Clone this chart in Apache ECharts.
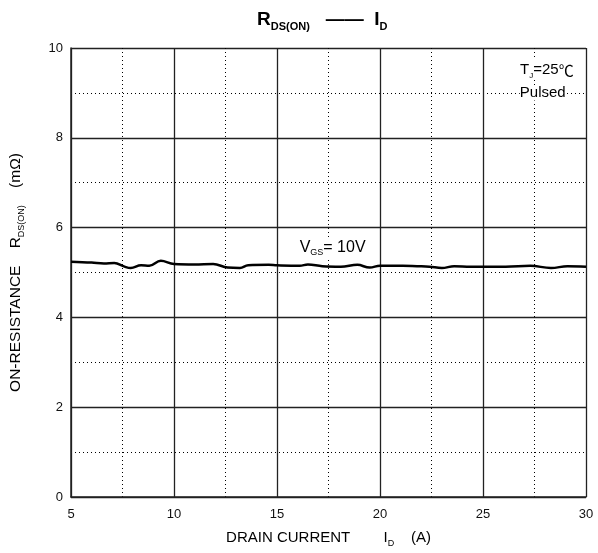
<!DOCTYPE html>
<html>
<head>
<meta charset="utf-8">
<script src="https://cdn.jsdelivr.net/npm/echarts@6/dist/echarts.min.js"></script>
<style>
html,body{margin:0;padding:0;background:#fff;}
#c{width:598px;height:553px;}
</style>
</head>
<body>
<div id="c"></div>
<script>
// Data
const drainCurrent = [5, 6, 6.6, 7.1, 7.6, 7.9, 8.4, 8.8, 9.36, 10, 11, 11.9, 12.6, 13.2, 13.6, 14.6, 15, 16.1, 16.5, 17.2, 18.1, 18.9, 19.5, 20, 21.1, 21.8, 22.4, 23, 23.6, 24.4, 25, 26.1, 27.3, 28.3, 29.1, 30];
const onResistance = [5.24, 5.22, 5.20, 5.21, 5.13, 5.10, 5.16, 5.15, 5.26, 5.19, 5.18, 5.19, 5.11, 5.10, 5.16, 5.17, 5.16, 5.15, 5.18, 5.14, 5.13, 5.17, 5.11, 5.15, 5.15, 5.14, 5.13, 5.10, 5.14, 5.13, 5.13, 5.13, 5.15, 5.10, 5.14, 5.13];
const xTicks = [5, 10, 15, 20, 25, 30];
const yTicks = [0, 2, 4, 6, 8, 10];

const FONT = '"Liberation Sans", Arial, sans-serif';
const chart = echarts.init(document.getElementById('c'), null, {renderer: 'canvas'});

const option = {
  backgroundColor: '#fff',
  animation: false,
  title: {
    left: 252, top: 3,
    text: '{m|R}{s|DS(ON)}{m|   ——  I}{s|D}',
    textStyle: {
      rich: {
        m: {fontFamily: FONT, fontWeight: 'bold', fontSize: 19, color: '#000', lineHeight: 24, verticalAlign: 'middle'},
        s: {fontFamily: FONT, fontWeight: 'bold', fontSize: 11, color: '#000', lineHeight: 9, verticalAlign: 'bottom'}
      }
    }
  },
  grid: {left: 70, right: 12, top: 48, bottom: 56},
  xAxis: {
    type: 'value', min: xTicks[0], max: xTicks[xTicks.length - 1], interval: 5,
    name: '{m|DRAIN CURRENT        I}{s|D}{m|    (A)}',
    nameLocation: 'middle', nameGap: 31,
    nameTextStyle: {
      rich: {
        m: {fontFamily: FONT, fontSize: 15, color: '#000', lineHeight: 20, verticalAlign: 'middle'},
        s: {fontFamily: FONT, fontSize: 9, color: '#000', lineHeight: 4, verticalAlign: 'bottom'}
      }
    },
    axisLine: {show: true, lineStyle: {color: '#222', width: 1.5}},
    axisTick: {show: false},
    axisLabel: {fontFamily: FONT, fontSize: 13, color: '#111', margin: 11,
      formatter: v => xTicks.includes(v) ? String(v) : ''},
    splitLine: {show: true, lineStyle: {color: '#222', width: 1.3}},
    minorTick: {show: false, splitNumber: 2},
    minorSplitLine: {show: true, lineStyle: {color: '#000', width: 1, type: [1, 3]}}
  },
  yAxis: {
    type: 'value', min: yTicks[0], max: yTicks[yTicks.length - 1], interval: 2,
    name: '{m|ON-RESISTANCE    R}{s|DS(ON)}{m|    (mΩ)}',
    nameLocation: 'middle', nameGap: 45, nameRotate: 90,
    nameTextStyle: {
      rich: {
        m: {fontFamily: FONT, fontSize: 15.5, color: '#000', lineHeight: 20, verticalAlign: 'middle'},
        s: {fontFamily: FONT, fontSize: 9, color: '#000', lineHeight: 5, verticalAlign: 'bottom'}
      }
    },
    axisLine: {show: true, lineStyle: {color: '#222', width: 1.5}},
    axisTick: {show: false},
    axisLabel: {fontFamily: FONT, fontSize: 13, color: '#111', margin: 8},
    splitLine: {show: true, lineStyle: {color: '#222', width: 1.3}},
    minorTick: {show: false, splitNumber: 2},
    minorSplitLine: {show: true, lineStyle: {color: '#000', width: 1, type: [1, 3]}}
  },
  series: [{
    type: 'line',
    data: drainCurrent.map((x, i) => [x, onResistance[i]]),
    showSymbol: false, symbol: 'none', smooth: 0.4,
    lineStyle: {color: '#000', width: 2.5},
    z: 5
  }]
};
chart.setOption(option);

function px(x, y) { return chart.convertToPixel({gridIndex: 0}, [x, y]); }
const pVgs = px(16.1, 5.56);
const pTj = px(28.1, 9.51);
const pPulsed = px(27.9, 9.0);
chart.setOption({
  graphic: [
    {type: 'text', x: pVgs[0], y: pVgs[1], z: 10,
      style: {text: '{m|V}{s|GS}{m|= 10V}', textVerticalAlign: 'middle', backgroundColor: '#fff',
        rich: {
          m: {fontFamily: FONT, fontSize: 16, fill: '#000', lineHeight: 20, verticalAlign: 'middle'},
          s: {fontFamily: FONT, fontSize: 9, fill: '#000', lineHeight: 5, verticalAlign: 'bottom'}
        }}},
    {type: 'text', x: pTj[0], y: pTj[1], z: 10,
      style: {text: '{m|T}{s|J}{m|=25}{c|℃}', textAlign: 'center', textVerticalAlign: 'middle', backgroundColor: '#fff',
        rich: {
          m: {fontFamily: FONT, fontSize: 15, fill: '#000', lineHeight: 20, verticalAlign: 'middle'},
          c: {fontFamily: '"Noto Sans CJK SC", sans-serif', fontSize: 15, fill: '#000', lineHeight: 20, verticalAlign: 'middle'},
          s: {fontFamily: FONT, fontSize: 8, fill: '#000', lineHeight: 5, verticalAlign: 'bottom'}
        }}},
    {type: 'text', x: pPulsed[0], y: pPulsed[1], z: 10,
      style: {text: 'Pulsed', textAlign: 'center', textVerticalAlign: 'middle', backgroundColor: '#fff',
        font: '15px ' + FONT, fill: '#000'}}
  ]
});
</script>
</body>
</html>
